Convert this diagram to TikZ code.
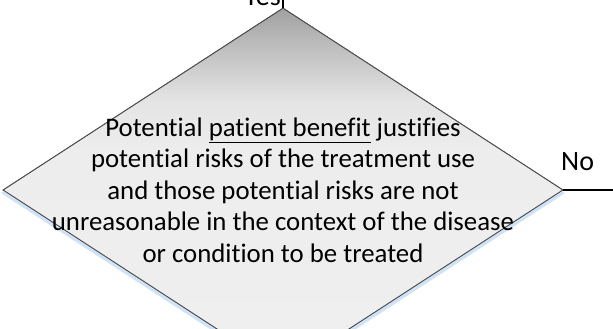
\documentclass[tikz,border=0pt]{standalone}
\usepackage{fontspec}
\setmainfont{Carlito}[Ligatures=NoCommon]
\usetikzlibrary{shapes.geometric}
\definecolor{edgegray}{RGB}{75,75,75}
\definecolor{glow}{RGB}{208,226,245}
\definecolor{ga}{RGB}{160,160,160}
\definecolor{gb}{RGB}{185,185,185}
\definecolor{gc}{RGB}{228,228,228}
\definecolor{gd}{RGB}{237,237,237}
\definecolor{ge}{RGB}{241,241,241}
\pgfdeclareverticalshading{dshade}{100bp}{color(0bp)=(ge); color(55.5bp)=(gd); color(62.4bp)=(gc); color(70.6bp)=(gb); color(75bp)=(ga); color(100bp)=(ga)}
\tikzset{
  decision/.style={diamond, minimum width=560bp, minimum height=364bp, inner sep=0pt,
    draw=edgegray, line width=0.9bp, shading=dshade},
  maintext/.style={align=center, inner sep=0pt, font=\fontsize{26.8bp}{31.5bp}\selectfont},
  label/.style={inner sep=0pt, font=\fontsize{28bp}{34bp}\selectfont},
  flow/.style={draw=black, line width=1.8bp}
}
\begin{document}
\begin{tikzpicture}[x=1bp,y=-1bp]
\useasboundingbox (0,0) rectangle (613,328);
\clip (0,0) rectangle (613,328);
\fill[white] (0,0) rectangle (613,328);
\coordinate (c) at (283,190);
\node[decision] (dec) at (c) {};
\draw[glow, line width=3.5bp] ([yshift=-2bp]dec.west) -- ([yshift=-2bp]dec.south) -- ([yshift=-2bp]dec.east);
\node[decision] at (c) {};
\node[maintext] (txt) at (dec.center) {Potential \underline{patient benefit} justifies\\potential risks of the treatment use\\and those potential risks are not\\unreasonable in the context of the disease\\or condition to be treated};
\node[label, anchor=base east] (yes) at (281,5.5) {Yes};
\node[label, anchor=base west] (no) at (561,170) {No};
\coordinate (ytop) at (283,-2);
\coordinate (nend) at (615,190);
\draw[flow, line width=1.5bp] (dec.north) -- (ytop);
\draw[flow] (dec.east) -- (nend);
\end{tikzpicture}
\end{document}
